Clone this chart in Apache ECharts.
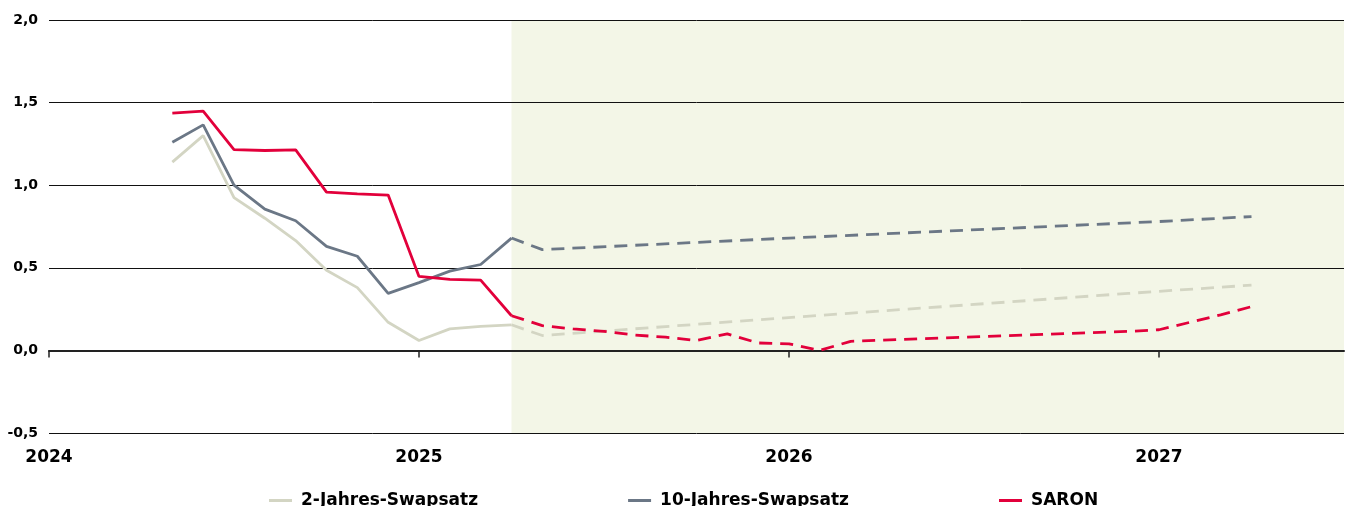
<!DOCTYPE html>
<html>
<head>
<meta charset="utf-8">
<script src="https://cdn.jsdelivr.net/npm/echarts@6/dist/echarts.min.js"></script>
<style>
  html, body { margin: 0; padding: 0; background: #ffffff; }
  #chart { width: 1346px; height: 506px; }
</style>
</head>
<body>
<div id="chart"></div>
<script>
// Year ticks on the time axis and value ticks on the rate axis
const yearTicks = [2024, 2025, 2026, 2027];
const rateTicks = [-0.5, 0, 0.5, 1.0, 1.5, 2.0];

// Start and end of the forecast period (shaded)
const forecastStart = '2025-04';
const forecastEnd = '2027-07';

// Observed monthly values
const histMonths = ['2024-05', '2024-06', '2024-07', '2024-08', '2024-09', '2024-10',
                    '2024-11', '2024-12', '2025-01', '2025-02', '2025-03', '2025-04'];
const swap2Hist  = [1.14, 1.30, 0.925, 0.80, 0.665, 0.485, 0.38, 0.17, 0.06, 0.13, 0.145, 0.155];
const swap10Hist = [1.26, 1.365, 1.00, 0.855, 0.785, 0.63, 0.57, 0.345, 0.41, 0.48, 0.52, 0.68];
const saronHist  = [1.436, 1.448, 1.215, 1.21, 1.214, 0.958, 0.948, 0.94, 0.448, 0.43, 0.425, 0.21];

// Forecasts
const swap2FcMonths  = ['2025-04', '2025-05', '2025-12', '2026-06', '2026-12', '2027-04'];
const swap2Fc        = [0.155, 0.09, 0.185, 0.265, 0.345, 0.395];
const swap10FcMonths = ['2025-04', '2025-05', '2026-01', '2027-01', '2027-04'];
const swap10Fc       = [0.68, 0.61, 0.68, 0.78, 0.81];
const saronFcMonths  = ['2025-04', '2025-05', '2025-06', '2025-07', '2025-08', '2025-09',
                        '2025-10', '2025-11', '2025-12', '2026-01', '2026-02', '2026-03',
                        '2026-06', '2026-09', '2026-12', '2027-01', '2027-02', '2027-03', '2027-04'];
const saronFc        = [0.21, 0.15, 0.13, 0.115, 0.093, 0.08, 0.06, 0.10, 0.045, 0.04, 0.0, 0.055,
                        0.075, 0.095, 0.115, 0.125, 0.17, 0.215, 0.265];

const seriesNames = ['2-Jahres-Swapsatz', '10-Jahres-Swapsatz', 'SARON'];
const colors = { swap2: '#d3d5c3', swap10: '#6b7786', saron: '#e2003b' };

function toYear(m) {
  const [y, mo] = m.split('-').map(Number);
  return y + (mo - 1) / 12;
}
function pairs(months, values) {
  return months.map((m, i) => [toYear(m), values[i]]);
}

const FONT = 'DejaVu Sans';
const dash = [13, 8];

function lineSeries(name, color, data, dashed, z) {
  return {
    name: name,
    type: 'line',
    data: data,
    symbol: 'none',
    z: z,
    color: color,
    lineStyle: { color: color, width: 2.8, type: dashed ? dash : 'solid' },
    emphasis: { disabled: true },
    animation: false
  };
}

const chart = echarts.init(document.getElementById('chart'));

chart.setOption({
  animation: false,
  grid: { left: 49, right: 2, top: 20, height: 413, containLabel: false },
  legend: {
    data: seriesNames,
    left: 264,
    top: 487,
    icon: 'rect',
    itemWidth: 23,
    itemHeight: 3,
    itemGap: 150,
    textStyle: { fontFamily: FONT, fontWeight: 'bold', fontSize: 17, color: '#000', padding: [0, 0, 0, 4] },
    selectedMode: false
  },
  xAxis: [
    {
      // year labels along the bottom edge
      type: 'value',
      min: yearTicks[0],
      max: toYear(forecastEnd),
      interval: 1,
      position: 'bottom',
      z: 1,
      axisLine: { show: false, onZero: false },
      axisTick: { show: false },
      splitLine: { show: false },
      axisLabel: {
        customValues: yearTicks,
        formatter: v => String(Math.round(v)),
        fontFamily: FONT, fontWeight: 'bold', fontSize: 17, color: '#000',
        margin: 16
      }
    },
    {
      // baseline through zero with yearly ticks
      type: 'value',
      min: yearTicks[0],
      max: toYear(forecastEnd),
      interval: 1,
      position: 'bottom',
      z: 1,
      axisLine: { show: true, onZero: true, onZeroAxisIndex: 0, lineStyle: { color: '#222', width: 2 } },
      axisTick: { show: true, inside: false, length: 7, customValues: yearTicks, lineStyle: { color: '#222', width: 1.5 } },
      axisLabel: { show: false },
      splitLine: { show: false }
    }
  ],
  yAxis: {
    type: 'value',
    min: rateTicks[0],
    max: rateTicks[rateTicks.length - 1],
    interval: 0.5,
    z: 1,
    axisLine: { show: false },
    axisTick: { show: false },
    splitLine: { show: true, lineStyle: { color: '#111', width: 1 } },
    axisLabel: {
      formatter: v => v.toFixed(1).replace('.', ','),
      fontFamily: FONT, fontWeight: 'bold', fontSize: 14, color: '#000',
      margin: 11
    }
  },
  series: [
    {
      name: 'forecast-area',
      type: 'line',
      data: [],
      z: 0,
      silent: true,
      markArea: {
        z: 0,
        silent: true,
        itemStyle: { color: '#f3f6e7' },
        data: [[
          { xAxis: toYear(forecastStart), yAxis: rateTicks[0] },
          { xAxis: toYear(forecastEnd), yAxis: rateTicks[rateTicks.length - 1] }
        ]]
      }
    },
    lineSeries(seriesNames[0], colors.swap2, pairs(histMonths, swap2Hist), false, 2),
    lineSeries(seriesNames[0], colors.swap2, pairs(swap2FcMonths, swap2Fc), true, 2),
    lineSeries(seriesNames[1], colors.swap10, pairs(histMonths, swap10Hist), false, 3),
    lineSeries(seriesNames[1], colors.swap10, pairs(swap10FcMonths, swap10Fc), true, 3),
    lineSeries(seriesNames[2], colors.saron, pairs(histMonths, saronHist), false, 4),
    lineSeries(seriesNames[2], colors.saron, pairs(saronFcMonths, saronFc), true, 4)
  ]
});
</script>
</body>
</html>
